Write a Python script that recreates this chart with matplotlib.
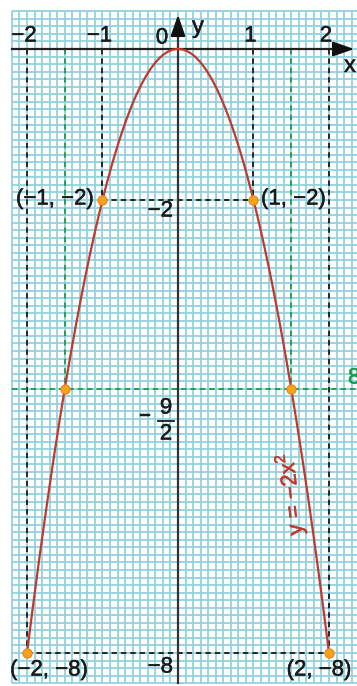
import numpy as np
import matplotlib
matplotlib.use("Agg")
import matplotlib.pyplot as plt
import matplotlib.patheffects as pe

# ---- data ----
point_x = [-1, 1, -1.5, 1.5, -2, 2]
point_y = [-2, -2, -4.5, -4.5, -8, -8]
tick_vals = [-2, -1, 1, 2]
tick_labels = ["\u22122", "\u22121", "1", "2"]
point_labels = ["(\u22121, \u22122)", "(1, \u22122)", "(\u22122, \u22128)", "(2, \u22128)"]

S = 75.5  # px per unit
OX, OY = 178, 49
def X(px): return (px - OX) / S
def Y(py): return (OY - py) / S

plt.rcParams['font.family'] = ['Liberation Sans', 'DejaVu Sans']
fig = plt.figure(figsize=(3.57, 6.86), dpi=100)
ax = fig.add_axes([0, 0, 1, 1])
ax.set_xlim(X(0), X(357))
ax.set_ylim(Y(686), Y(0))
ax.axis('off')

# grid
gc = '#93d1dd'
xs = np.arange(-22, 24) / 10
ys = np.arange(-84, 6) / 10
ax.vlines(xs, -8.4, 0.5, color=gc, lw=1.3, zorder=1)
ax.hlines(ys, -2.2, X(357), color=gc, lw=1.3, zorder=1)

red = '#c0392f'
green = '#1a9c4c'
# dashed guides
dash = dict(color='#1a1a1a', lw=1.3, ls=(0, (3.0, 2.2)), zorder=3)
for xv, yv in [(-1, -2), (1, -2), (-2, -8), (2, -8)]:
    ax.plot([xv, xv], [0, yv], **dash)
ax.plot([-1, 1], [-2, -2], **dash)
ax.plot([-2, 2], [-8, -8], **dash)
gd = dict(color=green, lw=1.3, ls=(0, (3.0, 2.2)), zorder=3)
ax.plot([-1.5, -1.5], [0, -4.5], **gd)
ax.plot([1.5, 1.5], [0, -4.5], **gd)
ax.plot([-2.2, X(357)], [-4.5, -4.5], **gd)

# axes
ax.plot([-2.2, X(340)], [0, 0], color='#222222', lw=1.6, zorder=4)
ax.plot([0, 0], [-8.4, Y(30)], color='#333333', lw=1.6, zorder=4)
ax.annotate('', xy=(X(357), 0), xytext=(X(335), 0),
            arrowprops=dict(arrowstyle='-|>,head_length=1.3,head_width=0.45', color='#111111', lw=1.5), zorder=5)
ax.annotate('', xy=(0, Y(12)), xytext=(0, Y(34)),
            arrowprops=dict(arrowstyle='-|>,head_length=1.3,head_width=0.45', color='#111111', lw=1.5), zorder=5)

# curve
xc = np.linspace(-2, 2, 400)
ax.plot(xc, -2 * xc**2, color=red, lw=1.6, zorder=5)

# points
ax.scatter(point_x, point_y, s=44, color='#f7a21b', edgecolor='#e8851a', lw=0.8, zorder=6)

fs = 16
tc = '#1a1a1a'
def T(x, y, s, color=tc, **kw):
    t = ax.text(x, y, s, fontsize=kw.pop('fontsize', fs), color=color, zorder=7, **kw)
    t.set_path_effects([pe.withStroke(linewidth=0.35, foreground=color)])
    return t

for v, lab in zip(tick_vals, tick_labels):
    T(v - 0.04, Y(36), lab, ha='center', va='center')
T(X(162), Y(38), "0", ha='center', va='center')
T(X(198), Y(27), "y", ha='center', va='center', fontsize=fs + 1)
T(X(350), Y(66), "x", ha='center', va='center', fontsize=fs + 1)

T(X(94), Y(199), point_labels[0], ha='right', va='center')
T(X(261), Y(199), point_labels[1], ha='left', va='center')
T(X(49), Y(670), point_labels[2], ha='center', va='center')
T(X(319), Y(670), point_labels[3], ha='center', va='center')
T(X(173), Y(211), "\u22122", ha='right', va='center')
T(X(173), Y(667), "\u22128", ha='right', va='center')
# -9/2 fraction
T(X(145), Y(417), "\u2212", ha='center', va='center')
T(X(166), Y(408), "9", ha='center', va='center')
ax.plot([X(158), X(174)], [Y(421), Y(421)], color=tc, lw=1.3, zorder=7)
T(X(166), Y(434), "2", ha='center', va='center')
T(X(348), Y(378), "8", color=green, ha='left', va='center')

T(X(291), Y(494), "y = \u22122x$^{\\mathregular{2}}$", color=red, rotation=97,
  rotation_mode='anchor', ha='center', va='center')

fig.savefig("out.png", dpi=100, facecolor='white')
